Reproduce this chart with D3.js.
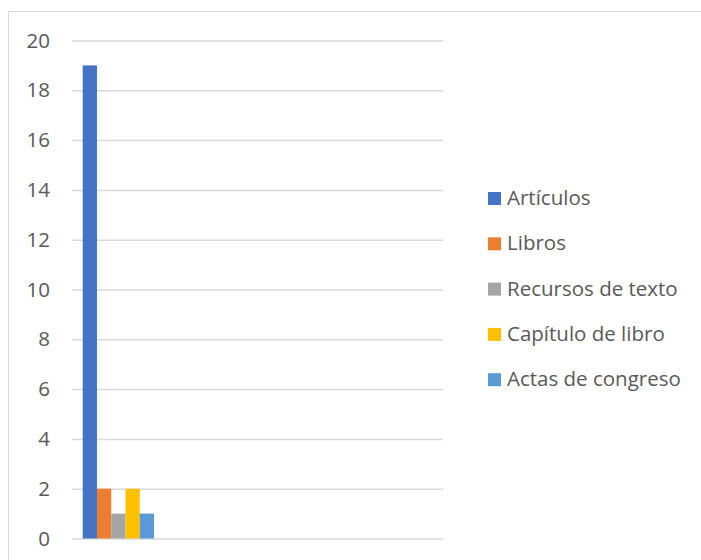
<!DOCTYPE html>
<html>
<head>
<meta charset="utf-8">
<script src="https://cdnjs.cloudflare.com/ajax/libs/d3/7.8.5/d3.min.js"></script>
<style>
  body { margin: 0; background: #fff; }
  text { font-family: "Open Sans", sans-serif; fill: #595959; }
</style>
</head>
<body>
<div id="chart"></div>
<script>
//---------------------------------------------data-------------------------------------------------------------
const categories = ["1", "2", "3", "4"];
const series = ["Artículos", "Libros", "Recursos de texto", "Capítulo de libro", "Actas de congreso"];
const colors = ["#4472C4", "#ED7D31", "#A5A5A5", "#FFC000", "#5B9BD5"];
// one row per category, one value per series (only the first category has values)
const values = [
  [19, 2, 1, 2, 1],
  [null, null, null, null, null],
  [null, null, null, null, null],
  [null, null, null, null, null]
];
const yTicks = [0, 2, 4, 6, 8, 10, 12, 14, 16, 18, 20];

const W = 701, H = 560;
var margin = {top: 40.5, left: 72, right: 258, bottom: 21.5};
const w = W - margin.left - margin.right;
const h = H - margin.top - margin.bottom;
const fontSize = 20.5;

//---------------------------------------------svg-------------------------------------------------------------
var svg = d3.select("#chart")
            .append("svg")
              .attr("width", W)
              .attr("height", H);

// chart border
svg.append("rect")
   .attr("x", 8.5)
   .attr("y", 11.5)
   .attr("width", W + 20)
   .attr("height", H + 20)
   .attr("fill", "none")
   .attr("stroke", "#d9d9d9")
   .attr("stroke-width", 1);

var g = svg.append("g")
           .attr("transform", "translate(" + margin.left + "," + margin.top + ")");

//---------------------------------------------scales-------------------------------------------------------------
var x0 = d3.scaleBand()
           .domain(categories)
           .range([0, w])
           .paddingInner(0.2308)
           .paddingOuter(0.1154);

var x1 = d3.scaleBand()
           .domain(d3.range(series.length))
           .range([0, x0.bandwidth()]);

var y = d3.scaleLinear()
          .domain([0, 20])
          .range([h, 0]);

//---------------------------------------------grid + y axis-------------------------------------------------------------
g.append("g")
  .call(d3.axisLeft(y).tickValues(yTicks).tickSize(-w).tickPadding(22))
  .call(a => a.select(".domain").remove())
  .call(a => a.selectAll(".tick line").attr("stroke", "#d9d9d9").attr("stroke-width", 1.5))
  .call(a => a.selectAll(".tick text")
              .attr("font-family", "Open Sans, sans-serif")
              .attr("font-size", fontSize)
              .attr("fill", "#595959"));

//---------------------------------------------bars-------------------------------------------------------------
var groups = g.selectAll(".cat")
  .data(categories)
  .enter()
  .append("g")
    .attr("class", "cat")
    .attr("transform", (d) => "translate(" + x0(d) + ",0)");

groups.selectAll("rect")
  .data((d, i) => values[i].map((v, j) => ({v: v, j: j})).filter((e) => e.v != null))
  .enter()
  .append("rect")
    .attr("x", (d) => x1(d.j))
    .attr("y", (d) => y(d.v))
    .attr("width", x1.bandwidth())
    .attr("height", (d) => h - y(d.v))
    .attr("fill", (d) => colors[d.j]);

//---------------------------------------------legend-------------------------------------------------------------
var legend = svg.selectAll(".legend")
  .data(series)
  .enter()
  .append("g")
    .attr("class", "legend")
    .attr("transform", (d, i) => "translate(488," + (205 + i * 45.3) + ")");

legend.append("rect")
  .attr("x", 0)
  .attr("y", -13)
  .attr("width", 13)
  .attr("height", 13)
  .attr("fill", (d, i) => colors[i]);

legend.append("text")
  .attr("x", 19)
  .attr("y", 0)
  .attr("font-size", fontSize)
  .text((d) => d);
</script>
</body>
</html>
